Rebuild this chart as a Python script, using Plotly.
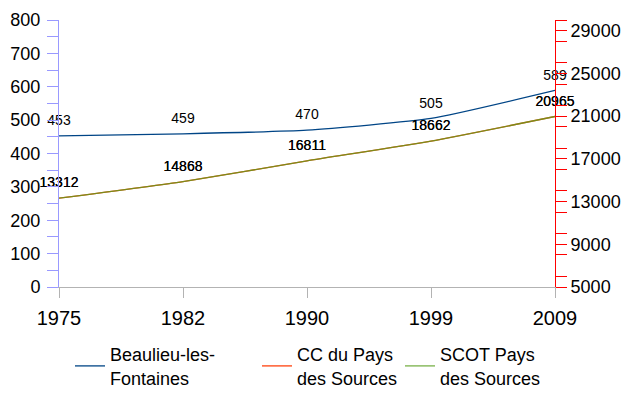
import plotly.graph_objects as go

years = ["1975", "1982", "1990", "1999", "2009"]
beaulieu = [453, 459, 470, 505, 589]
cc_sources = [13312, 14868, 16811, 18662, 20965]
scot_sources = [13312, 14868, 16811, 18662, 20965]

names = ["Beaulieu-les-<br>Fontaines", "CC du Pays<br>des Sources", "SCOT Pays<br>des Sources"]
colors = ["#004586", "#ff420e", "rgba(87,157,28,0.8)"]
FONT = "Liberation Sans, Arial, sans-serif"

fig = go.Figure()
series_list = [(beaulieu, "y", "legend"), (cc_sources, "y2", "legend2"), (scot_sources, "y2", "legend3")]
for (vals, yax, leg), name, col in zip(series_list, names, colors):
    fig.add_trace(go.Scatter(x=years, y=vals, mode="lines", name=name,
                             line=dict(color=col, width=1.3, shape="spline", smoothing=0.5),
                             yaxis=yax, legend=leg, showlegend=True))
# value labels
for vals, yax, leg in series_list:
    fig.add_trace(go.Scatter(x=years, y=vals, mode="markers+text", text=[str(v) for v in vals],
                             textposition="top center", cliponaxis=False,
                             marker=dict(size=10, opacity=0),
                             textfont=dict(size=14, color="#000000", family=FONT),
                             yaxis=yax, showlegend=False, hoverinfo="skip"))

legend_common = dict(orientation="h", xref="paper", yref="container", xanchor="left",
                     yanchor="middle", bgcolor="rgba(0,0,0,0)",
                     font=dict(size=18, color="#000000", family=FONT), itemwidth=30,
                     tracegroupgap=0)
ly = (401 - 366) / 401

fig.update_layout(
    width=624, height=401,
    margin=dict(l=59, r=69, t=20, b=114),
    paper_bgcolor="white", plot_bgcolor="white",
    font=dict(family=FONT, color="#000000"),
    showlegend=True,
    legend=dict(x=(70 - 59) / 496, y=ly, **legend_common),
    legend2=dict(x=(257 - 59) / 496, y=ly, **legend_common),
    legend3=dict(x=(400 - 59) / 496, y=ly, **legend_common),
    xaxis=dict(type="category", range=[0, 4], showgrid=False, showline=True, automargin=False,
               linecolor="#b3b3b3", linewidth=1, ticks="outside", ticklen=10,
               tickcolor="#b3b3b3", tickfont=dict(size=20, family=FONT, color="#000000"),
               ticklabelstandoff=3, zeroline=False),
    yaxis=dict(range=[0, 800], dtick=100, tick0=0, showgrid=False, showline=True, automargin=False,
               linecolor="#9999ff", linewidth=1, ticks="outside", ticklen=11,
               tickcolor="#9999ff", zeroline=False, ticklabelstandoff=3,
               minor=dict(dtick=50, ticks="outside", ticklen=11, tickcolor="#9999ff", showgrid=False),
               tickfont=dict(size=18, family=FONT, color="#000000")),
    yaxis2=dict(range=[5000, 30000], dtick=4000, tick0=5000, overlaying="y", side="right",
                showgrid=False, showline=True, linecolor="#ff0000", linewidth=1, automargin=False,
                ticks="outside", ticklen=11, tickcolor="#ff0000", zeroline=False, tickformat="d",
                minor=dict(dtick=2000, ticks="outside", ticklen=11, tickcolor="#ff0000", showgrid=False),
                tickfont=dict(size=18, family=FONT, color="#000000")),
)

fig.write_html("out.html", config={"displayModeBar": False},
               post_script="document.body.style.margin='0';")
